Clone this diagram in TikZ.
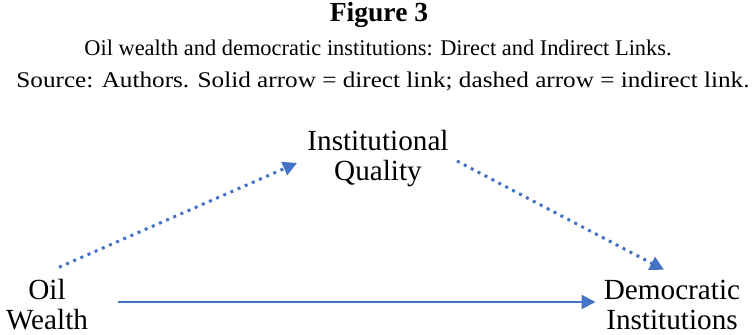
\documentclass[tikz,border=0pt]{standalone}
\usepackage{fontspec}
\setmainfont{Liberation Serif}
\usepackage{xcolor}
\usepackage{tikz}
\usetikzlibrary{arrows.meta}

\definecolor{linkblue}{HTML}{4472C4}

\begin{document}
\begin{tikzpicture}[x=0.5pt, y=-0.5pt,
    label/.style={align=center, inner sep=2pt, font=\fontsize{14.6}{15}\selectfont},
    caption/.style={inner sep=0pt, font=\fontsize{11.2}{13}\selectfont},
    direct/.style={linkblue, line width=1pt, -{Triangle[length=7pt, width=7pt]}},
    indirect/.style={linkblue, line width=1.5pt, dash pattern=on 1.5pt off 2.4pt, -{Triangle[length=7pt, width=7pt]}}]
        \useasboundingbox (0,0) rectangle (756,335);

        % Caption
        \node[caption, anchor=base, font=\fontsize{13.8}{15}\bfseries] (title) at (379,22) {Figure 3};
        \node[caption] (sub) at (378,48) {Oil wealth and democratic institutions: Direct and Indirect Links.};
        \node[caption] (source) at (383,81) {\scalebox{1.125}[1]{Source: Authors. Solid arrow = direct link; dashed arrow = indirect link.}};

        % Nodes
        \node[label] (inst) at (378,159) {Institutional\\Quality};
        \node[label] (oil) at (47,305) {Oil\\Wealth};
        \node[label] (dem) at (672,305) {Democratic\\Institutions};

        % Links
        \draw[indirect] ([xshift=6pt, yshift=4pt]oil.north) -- ([xshift=-3pt, yshift=-2pt]inst.west);
        \draw[indirect] ([xshift=2pt, yshift=-1pt]inst.east) -- ([xshift=-4pt, yshift=3pt]dem.north);
        \draw[direct, shorten <=13pt, shorten >=2pt] ([yshift=1.5pt]oil.east) -- ([yshift=1.5pt]dem.west);
    \end{tikzpicture}
\end{document}
